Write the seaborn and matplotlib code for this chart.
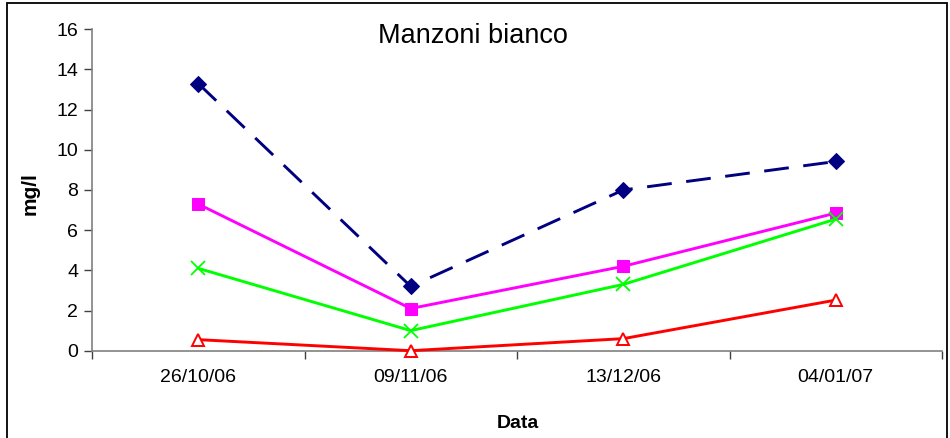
import matplotlib
matplotlib.use("Agg")
import matplotlib.pyplot as plt
from matplotlib.patches import Rectangle
import seaborn as sns
import pandas as pd

# Sampling dates and measured concentrations (mg/l)
dates = ["26/10/06", "09/11/06", "13/12/06", "04/01/07"]
serie_blu = [13.3, 3.2, 8.0, 9.42]
serie_magenta = [7.3, 2.1, 4.2, 6.85]
serie_verde = [4.1, 1.0, 3.3, 6.55]
serie_rossa = [0.55, 0.0, 0.6, 2.52]

sns.set_theme(style="white")
plt.rcParams["font.family"] = ["Liberation Sans", "DejaVu Sans"]

fig = plt.figure(figsize=(9.5, 4.38), dpi=100)
ax = fig.add_axes([92 / 950, 1 - 350.7 / 438, 850 / 950, 321.4 / 438])

pos = list(range(len(dates)))
styles = [
    (serie_blu, "#000080", "D", (0, (8.5, 5.0)), dict(markerfacecolor="#000080", markeredgecolor="#000080", markersize=8.5)),
    (serie_magenta, "#FF00FF", "s", "-", dict(markerfacecolor="#FF00FF", markeredgecolor="#FF00FF", markersize=8)),
    (serie_verde, "#00FF00", "x", "-", dict(markeredgecolor="#00FF00", markersize=9.5, markeredgewidth=1.3)),
    (serie_rossa, "#FF0000", "^", "-", dict(markerfacecolor="white", markeredgecolor="#FF0000", markersize=9, markeredgewidth=1.4)),
]
for vals, col, mk, ls, mkw in styles:
    df = pd.DataFrame({"pos": pos, "val": vals})
    sns.lineplot(data=df, x="pos", y="val", ax=ax, color=col, marker=mk,
                 linestyle=ls, linewidth=2.1, clip_on=False, zorder=3, **mkw)

ax.set_xlim(-0.5, len(dates) - 0.5)
ax.set_ylim(0, 16)
ax.set_yticks(range(0, 17, 2))
ax.set_xticks(pos)
ax.set_xticklabels(dates, fontsize=14)
ax.set_xticks([p - 0.5 for p in pos] + [len(dates) - 0.5], minor=True)
ax.tick_params(axis="x", which="major", length=0, pad=13, labelcolor="black")
ax.tick_params(axis="x", which="minor", length=6, width=1, color="#404040", direction="out", bottom=True)
ax.tick_params(axis="y", length=6, width=1, color="#404040", direction="out", left=True,
               labelsize=14, pad=4, labelcolor="black")

for side in ("top", "right"):
    ax.spines[side].set_visible(False)
for side in ("left", "bottom"):
    ax.spines[side].set_color("#808080")
    ax.spines[side].set_linewidth(1.2)

ax.set_xlabel("Data", fontsize=14, fontweight="bold", color="black")
ax.set_ylabel("mg/l", fontsize=15, fontweight="bold", color="black")
ax.xaxis.set_label_coords(0.501, -0.2)
ax.yaxis.set_label_coords(-0.062, 0.49)

fig.text(473 / 950, 1 - 43 / 438, "Manzoni bianco", fontsize=19.5, ha="center", va="baseline", color="black")

# outer frame of the chart area
fig.patches.append(Rectangle((7 / 950, -0.05), 940 / 950, 1.05 - 3 / 438, transform=fig.transFigure,
                             fill=False, edgecolor="black", linewidth=1.3))

fig.savefig("out.png", dpi=100)
